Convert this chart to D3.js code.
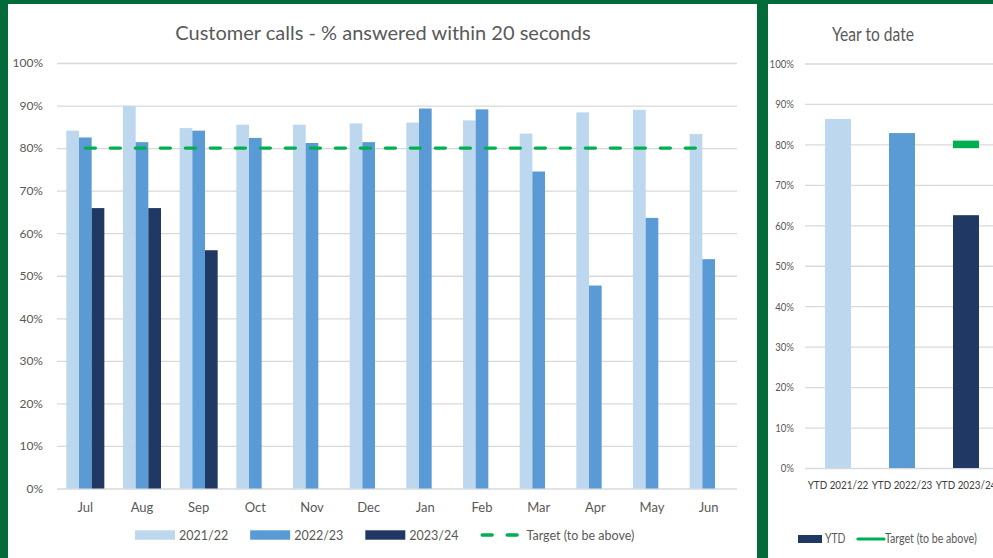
<!DOCTYPE html>
<html>
<head>
<meta charset="utf-8">
<script src="https://cdn.jsdelivr.net/npm/d3@7"></script>
<style>
  html, body { margin: 0; padding: 0; background: #036a39; }
  svg { display: block; }
  .tick line { stroke: #d9d9d9; stroke-width: 1.3; }
</style>
</head>
<body>
<script>
// monthly chart data
const months = ['Jul', 'Aug', 'Sep', 'Oct', 'Nov', 'Dec', 'Jan', 'Feb', 'Mar', 'Apr', 'May', 'Jun'];
const series = ['2021/22', '2022/23', '2023/24'];
const fy2122 = [84.1, 89.9, 84.7, 85.5, 85.5, 85.8, 86.0, 86.5, 83.4, 88.4, 89.0, 83.3];
const fy2223 = [82.5, 81.4, 84.1, 82.4, 81.2, 81.4, 89.3, 89.1, 74.5, 47.7, 63.6, 53.9];
const fy2324 = [65.9, 65.9, 56.0, null, null, null, null, null, null, null, null, null];
const target = [80, 80, 80, 80, 80, 80, 80, 80, 80, 80, 80, 80];
const yTicks = [0, 10, 20, 30, 40, 50, 60, 70, 80, 90, 100];

// year to date data
const ytdLabels = ['YTD 2021/22', 'YTD 2022/23', 'YTD 2023/24'];
const ytdValues = [86.3, 82.8, 62.5];
const ytdTarget = [null, null, 80];

const colors = ['#bdd7ee', '#5b9bd5', '#203864'];
const green = '#00b050';
const textCol = '#595959';
const font = 'Lato, "Open Sans", sans-serif';

const W = 993, H = 558;
const svg = d3.select('body').append('svg')
    .attr('width', W)
    .attr('height', H);

// the YTD panel uses a condensed look, squeeze the text horizontally
function squeeze(sel, k) {
    sel.each(function () {
        const t = d3.select(this);
        const x0 = +t.attr('x') || 0;
        t.attr('x', x0 / k).attr('transform', 'scale(' + k + ',1)');
    });
}

svg.append('rect').attr('width', W).attr('height', H).attr('fill', '#036a39');
svg.append('rect').attr('x', 8).attr('y', 4).attr('width', 749).attr('height', H - 4).attr('fill', '#fff');
svg.append('rect').attr('x', 768).attr('y', 4).attr('width', W - 768).attr('height', H - 4).attr('fill', '#fff');

// ---------- left chart ----------
const left = svg.append('g');

const x = d3.scaleBand()
    .domain(months)
    .range([57, 737]);
const groupW = 38;
const xs = d3.scaleBand()
    .domain(series)
    .range([(x.bandwidth() - groupW) / 2, (x.bandwidth() + groupW) / 2]);
const y = d3.scaleLinear()
    .domain([0, 100])
    .range([488.5, 63]);

left.append('text')
    .attr('x', 383)
    .attr('y', 39.5)
    .attr('text-anchor', 'middle')
    .attr('fill', textCol)
    .style('font-family', font)
    .style('font-size', '20px')
    .text('Customer calls - % answered within 20 seconds');

const yAxis = d3.axisLeft(y)
    .tickValues(yTicks)
    .tickSize(-(737 - 57))
    .tickPadding(14)
    .tickFormat(d => d + '%');
left.append('g')
    .attr('transform', 'translate(57,0)')
    .call(yAxis)
    .call(g => g.select('.domain').remove())
    .selectAll('text')
    .attr('fill', textCol)
    .style('font-family', font)
    .style('font-size', '12px');

const xAxis = d3.axisBottom(x)
    .tickSize(0)
    .tickPadding(14);
left.append('g')
    .attr('transform', 'translate(0,' + y(0) + ')')
    .call(xAxis)
    .call(g => g.select('.domain').remove())
    .selectAll('text')
    .attr('fill', textCol)
    .style('font-family', font)
    .style('font-size', '13px');

const allSeries = [fy2122, fy2223, fy2324];
const barData = [];
allSeries.forEach((vals, si) => {
    vals.forEach((v, mi) => {
        if (v != null) barData.push({ month: months[mi], s: series[si], si: si, v: v });
    });
});

left.selectAll('rect.bar')
    .data(barData)
    .enter()
    .append('rect')
    .attr('class', 'bar')
    .attr('x', d => x(d.month) + xs(d.s))
    .attr('y', d => y(d.v))
    .attr('width', xs.bandwidth())
    .attr('height', d => y(0) - y(d.v))
    .attr('fill', d => colors[d.si]);

const line = d3.line()
    .x((d, i) => x(months[i]) + x.bandwidth() / 2)
    .y(d => y(d));
left.append('path')
    .datum(target)
    .attr('d', line)
    .attr('fill', 'none')
    .attr('stroke', green)
    .attr('stroke-width', 3.4)
    .attr('stroke-linecap', 'round')
    .attr('stroke-dasharray', '10,15');

// legend left
const leg = left.append('g').attr('transform', 'translate(0,535)');
let lx = 135;
series.forEach((s, i) => {
    leg.append('rect')
        .attr('x', lx).attr('y', -4.7)
        .attr('width', 40).attr('height', 9.4)
        .attr('fill', colors[i]);
    const t = leg.append('text')
        .attr('x', lx + 44).attr('y', 4.5)
        .attr('fill', textCol)
        .style('font-family', font)
        .style('font-size', '12.5px')
        .text(s);
    lx += 44 + t.node().getComputedTextLength() + 22;
});
leg.append('line')
    .attr('x1', lx + 1.7).attr('x2', lx + 38)
    .attr('y1', 0).attr('y2', 0)
    .attr('stroke', green)
    .attr('stroke-width', 3.4)
    .attr('stroke-linecap', 'round')
    .attr('stroke-dasharray', '10,15');
leg.append('text')
    .attr('x', lx + 46).attr('y', 4.5)
    .attr('fill', textCol)
    .style('font-family', font)
    .style('font-size', '12.5px')
    .text('Target (to be above)');

// ---------- right chart ----------
const right = svg.append('g');
const k = 0.8;

const x2 = d3.scaleBand()
    .domain(ytdLabels)
    .range([806, 998])
    .paddingInner(0.594)
    .paddingOuter(0.297);
const y2 = d3.scaleLinear()
    .domain([0, 100])
    .range([468, 63.5]);

right.append('text')
    .attr('x', 873)
    .attr('y', 41)
    .attr('text-anchor', 'middle')
    .attr('fill', textCol)
    .style('font-family', font)
    .style('font-size', '20px')
    .text('Year to date')
    .call(squeeze, 0.78);

right.append('g')
    .attr('transform', 'translate(805,0)')
    .call(d3.axisLeft(y2).tickValues(yTicks).tickSize(-200).tickPadding(11).tickFormat(d => d + '%'))
    .call(g => g.select('.domain').remove())
    .selectAll('text')
    .attr('fill', textCol)
    .style('font-family', font)
    .style('font-size', '12px')
    .call(squeeze, k);

right.append('g')
    .attr('transform', 'translate(0,' + y2(0) + ')')
    .call(d3.axisBottom(x2).tickSize(0).tickPadding(12))
    .call(g => g.select('.domain').remove())
    .selectAll('text')
    .attr('fill', '#404040')
    .style('font-family', font)
    .style('font-size', '12.3px')
    .call(squeeze, k);

right.selectAll('rect.ytd')
    .data(ytdValues)
    .enter()
    .append('rect')
    .attr('class', 'ytd')
    .attr('x', (d, i) => x2(ytdLabels[i]))
    .attr('y', d => y2(d))
    .attr('width', x2.bandwidth())
    .attr('height', d => y2(0) - y2(d))
    .attr('fill', (d, i) => colors[i]);

right.selectAll('rect.tgt')
    .data(ytdTarget.map((v, i) => ({ v: v, i: i })).filter(d => d.v != null))
    .enter()
    .append('rect')
    .attr('class', 'tgt')
    .attr('x', d => x2(ytdLabels[d.i]))
    .attr('y', d => y2(d.v) - 3.8)
    .attr('width', x2.bandwidth())
    .attr('height', 7.6)
    .attr('fill', green);

// legend right
const leg2 = right.append('g').attr('transform', 'translate(0,539)');
leg2.append('rect')
    .attr('x', 798).attr('y', -4).attr('width', 24).attr('height', 8)
    .attr('fill', colors[2]);
leg2.append('text')
    .attr('x', 825).attr('y', 4.3)
    .attr('fill', textCol)
    .style('font-family', font)
    .style('font-size', '13px')
    .text('YTD')
    .call(squeeze, k);
leg2.append('line')
    .attr('x1', 858).attr('x2', 884)
    .attr('y1', 0).attr('y2', 0)
    .attr('stroke', green)
    .attr('stroke-width', 3.2)
    .attr('stroke-linecap', 'round');
leg2.append('text')
    .attr('x', 885).attr('y', 4.3)
    .attr('fill', textCol)
    .style('font-family', font)
    .style('font-size', '13.3px')
    .text('Target (to be above)')
    .call(squeeze, k);
</script>
</body>
</html>
